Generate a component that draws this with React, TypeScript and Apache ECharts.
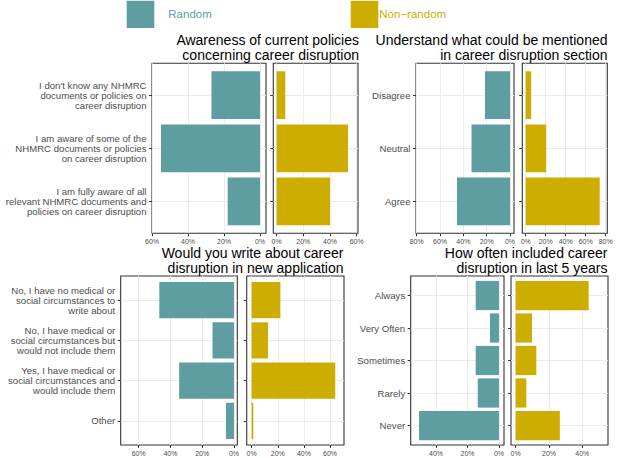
import React, { useEffect, useRef } from "react";
import * as echarts from "echarts";

// ---------- DATA ----------
const awarenessCategories = [
  "I don't know any NHMRC\ndocuments or policies on\ncareer disruption",
  "I am aware of some of the\nNHMRC documents or policies\non career disruption",
  "I am fully aware of all\nrelevant NHMRC documents and\npolicies on career disruption",
];
const awarenessRandom = [27, 55, 18];
const awarenessNonRandom = [6.5, 53.5, 40];
const awarenessTicks = [0, 20, 40, 60];

const understandCategories = ["Disagree", "Neutral", "Agree"];
const understandRandom = [21.5, 33, 45.5];
const understandNonRandom = [5.5, 20.5, 74];
const understandTicks = [0, 20, 40, 60, 80];

const writeCategories = [
  "No, I have no medical or\nsocial circumstances to\nwrite about",
  "No, I have medical or\nsocial circumstances but\nwould not include them",
  "Yes, I have medical or\nsocial circumstances and\nwould include them",
  "Other",
];
const writeRandom = [47, 13.5, 34.5, 5];
const writeNonRandom = [22, 12.5, 64, 1.3];
const writeTicks = [0, 20, 40, 60];

const howOftenCategories = ["Always", "Very Often", "Sometimes", "Rarely", "Never"];
const howOftenRandom = [14.8, 5.7, 14.8, 13.5, 50.8];
const howOftenNonRandom = [43.8, 9.8, 12.4, 6.4, 26.5];
const howOftenTicks = [0, 20, 40];

const seriesNames = ["Random", "Non\u2212random"];
const titles = [
  "Awareness of current policies\nconcerning career disruption",
  "Understand what could be mentioned\nin career disruption section",
  "Would you write about career\ndisruption in new application",
  "How often included career\ndisruption in last 5 years",
];

// ---------- STYLE / LAYOUT ----------
const FONT = '"Liberation Sans", Arial, Helvetica, sans-serif';
const TEAL = "#5F9EA0";
const GOLD = "#CDAD00";

const panels = [
  {
    cats: awarenessCategories, rnd: awarenessRandom, non: awarenessNonRandom, ticks: awarenessTicks, title: titles[0],
    top: 63.3, height: 170,
    r: { left: 152, width: 114, min: -3.3, max: 60 },
    n: { left: 273.3, width: 84.7, min: -2.5, max: 61 },
    titleRight: 359, titleTop: 32.5,
  },
  {
    cats: understandCategories, rnd: understandRandom, non: understandNonRandom, ticks: understandTicks, title: titles[1],
    top: 63.3, height: 170,
    r: { left: 416, width: 98, min: -3.4, max: 80.6 },
    n: { left: 522.3, width: 85, min: -3.4, max: 81.6 },
    titleRight: 607.5, titleTop: 32.5,
  },
  {
    cats: writeCategories, rnd: writeRandom, non: writeNonRandom, ticks: writeTicks, title: titles[2],
    top: 276, height: 169,
    r: { left: 120.7, width: 116.6, min: -2.1, max: 71.3 },
    n: { left: 246.7, width: 97.3, min: -3.8, max: 70.7 },
    titleRight: 343.5, titleTop: 245.5,
  },
  {
    cats: howOftenCategories, rnd: howOftenRandom, non: howOftenNonRandom, ticks: howOftenTicks, title: titles[3],
    top: 276, height: 169,
    r: { left: 410.7, width: 93.3, min: -3.2, max: 56.1 },
    n: { left: 511, width: 97, min: -2.8, max: 55.4 },
    titleRight: 607.5, titleTop: 245.5,
  },
];

function buildOption() {
  const grid: any[] = [];
  const xAxis: any[] = [];
  const yAxis: any[] = [];
  const series: any[] = [];
  const graphic: any[] = [];

  panels.forEach((p) => {
    const idx = p.cats.map((_, i) => i);
    [
      { side: p.r, values: p.rnd, name: seriesNames[0], color: TEAL, isRandom: true },
      { side: p.n, values: p.non, name: seriesNames[1], color: GOLD, isRandom: false },
    ].forEach((s) => {
      const gi = grid.length;
      grid.push({
        left: s.side.left,
        top: p.top,
        width: s.side.width,
        height: p.height,
        show: true,
        borderColor: "#333333",
        borderWidth: 1.1,
        backgroundColor: "#ffffff",
      });
      xAxis.push({
        type: "value",
        gridIndex: gi,
        min: s.side.min,
        max: s.side.max,
        inverse: s.isRandom,
        axisLine: { show: false, onZero: false },
        axisTick: { show: true, length: 3, customValues: p.ticks, lineStyle: { color: "#333333", width: 1 } },
        axisLabel: {
          customValues: p.ticks,
          formatter: (v: number) => `${v}%`,
          fontSize: 7,
          color: "#4D4D4D",
          margin: 5,
          fontFamily: FONT,
        },
        splitLine: { show: true, lineStyle: { color: "#EBEBEB", width: 1 } },
      });
      yAxis.push({
        type: "value",
        gridIndex: gi,
        min: -0.6,
        max: p.cats.length - 0.4,
        inverse: true,
        axisLine: { show: false, onZero: false },
        axisTick: { show: true, length: 3, customValues: idx, lineStyle: { color: "#333333", width: 1 } },
        axisLabel: {
          show: s.isRandom,
          customValues: idx,
          formatter: (v: number) => p.cats[Math.round(v)] ?? "",
          fontSize: 9.6,
          lineHeight: 10,
          color: "#4D4D4D",
          margin: 5.5,
          fontFamily: FONT,
          align: "right",
        },
        splitLine: { show: true, lineStyle: { color: "#EBEBEB", width: 1 } },
      });
      const color = s.color;
      series.push({
        type: "custom",
        name: s.name,
        xAxisIndex: gi,
        yAxisIndex: gi,
        data: s.values.map((v, i) => [v, i]),
        encode: { x: 0, y: 1 },
        itemStyle: { color },
        renderItem: (params: any, api: any) => {
          const v = api.value(0);
          const i = api.value(1);
          const p0 = api.coord([0, i]);
          const p1 = api.coord([v, i]);
          const h = Math.abs(api.size([0, 1])[1]) * 0.9;
          return {
            type: "rect",
            shape: {
              x: Math.min(p0[0], p1[0]),
              y: p0[1] - h / 2,
              width: Math.abs(p1[0] - p0[0]),
              height: h,
            },
            style: { fill: color },
          };
        },
      });
    });

    graphic.push({
      type: "text",
      x: p.titleRight,
      y: p.titleTop,
      style: {
        text: p.title,
        align: "right",
        verticalAlign: "top",
        font: `14px ${FONT}`,
        lineHeight: 15,
        fill: "#000000",
      },
    });
  });

  // legend keys
  graphic.push(
    { type: "rect", shape: { x: 126.7, y: 0.8, width: 27.6, height: 27.2 }, style: { fill: TEAL } },
    {
      type: "text", x: 168.3, y: 14.4,
      style: { text: seriesNames[0], font: `11.5px ${FONT}`, fill: TEAL, verticalAlign: "middle", align: "left" },
    },
    { type: "rect", shape: { x: 350.7, y: 0.8, width: 27.6, height: 27.2 }, style: { fill: GOLD } },
    {
      type: "text", x: 379.3, y: 14.4,
      style: { text: seriesNames[1], font: `11.5px ${FONT}`, fill: GOLD, verticalAlign: "middle", align: "left" },
    }
  );

  return {
    animation: false,
    backgroundColor: "#ffffff",
    grid,
    xAxis,
    yAxis,
    series,
    graphic,
  };
}

export default function App() {
  const ref = useRef<HTMLDivElement>(null);
  useEffect(() => {
    if (!ref.current) return;
    const chart = echarts.init(ref.current, null, { renderer: "svg" });
    chart.setOption(buildOption() as any);
    return () => chart.dispose();
  }, []);
  return (
    <div
      ref={ref}
      style={{ position: "fixed", left: 0, top: 0, width: 617, height: 458 }}
    />
  );
}
